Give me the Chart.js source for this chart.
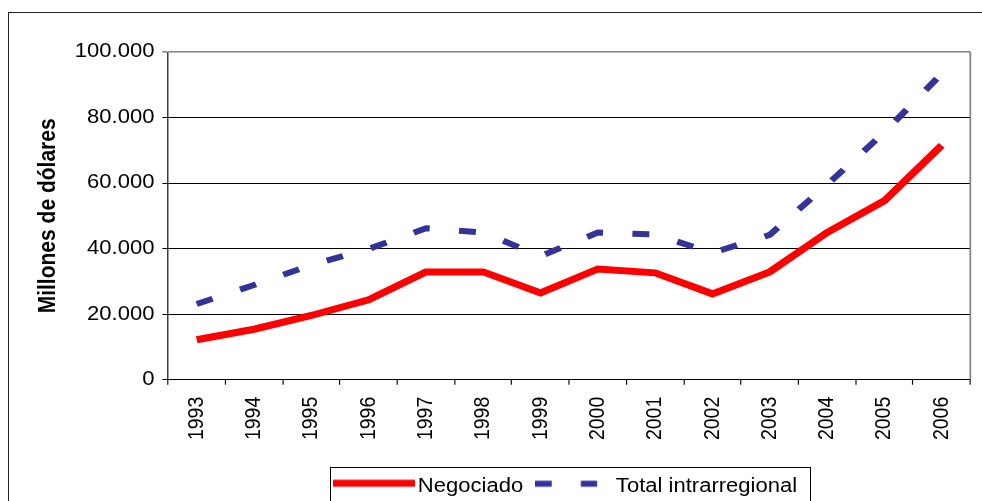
<!DOCTYPE html>
<html>
<head>
<meta charset="utf-8">
<script src="https://cdn.jsdelivr.net/npm/chart.js@4/dist/chart.umd.min.js"></script>
<style>
  html, body { margin: 0; padding: 0; background: #fff; }
  canvas { display: block; }
</style>
</head>
<body>
<canvas id="chart" width="869" height="501"></canvas>
<script>
var years = ['1993', '1994', '1995', '1996', '1997', '1998', '1999', '2000', '2001', '2002', '2003', '2004', '2005', '2006'];
var negociado = [12200, 15400, 19600, 24400, 32900, 32900, 26500, 33800, 32600, 26200, 32900, 44900, 54600, 71500];
var totalIntra = [23100, 28900, 35000, 39900, 46200, 44900, 37700, 44900, 44300, 38700, 44200, 59500, 75500, 93400];
var yTickLabels = ['0', '20.000', '40.000', '60.000', '80.000', '100.000'];

// the original picture is stretched sideways, so draw narrow and widen it
var S = 982 / 869;
var FONT = 'Liberation Sans, Arial, sans-serif';

function legendSample(kind) {
    var c = document.createElement('canvas');
    var g = c.getContext('2d');
    if (kind === 'line') {
        c.width = 73; c.height = 20;
        g.fillStyle = '#ff0000';
        g.fillRect(0, 3.5, 73, 7);
    } else {
        c.width = 66; c.height = 20;
        g.fillStyle = '#333399';
        g.fillRect(0, 4.5, 15, 6);
        g.fillRect(40.7, 4.5, 14.5, 6);
    }
    return c;
}

var frame = {
    id: 'frame',
    beforeDatasetsDraw: function (chart) {
        var ctx = chart.ctx, a = chart.chartArea;
        ctx.save();
        ctx.strokeStyle = '#808080';
        ctx.lineWidth = 1.5;
        ctx.beginPath();
        ctx.moveTo(a.right, a.top);
        ctx.lineTo(a.right, a.bottom);
        ctx.stroke();
        ctx.restore();
    },
    afterDraw: function (chart) {
        var ctx = chart.ctx;
        var boxes = chart.legend.legendHitBoxes;
        ctx.save();
        ctx.setTransform(1, 0, 0, 1, 0, 0);
        // outer chart border
        ctx.strokeStyle = '#222';
        ctx.lineWidth = 1;
        ctx.strokeRect(8.5, 12.5, 1000, 600);
        // legend border
        if (boxes && boxes.length) {
            var l = Math.round((boxes[0].left - 9.8) * S) + 0.5;
            var last = boxes[boxes.length - 1];
            var r = Math.round((last.left + last.width + 11) * S) + 0.5;
            ctx.strokeStyle = '#000';
            ctx.strokeRect(l, 467.5, r - l, 100);
        }
        ctx.restore();
    }
};

var canvas = document.getElementById('chart');
var chart = new Chart(canvas, {
    type: 'line',
    data: {
        labels: years,
        datasets: [{
            label: 'Negociado',
            data: negociado,
            borderColor: '#ff0000',
            backgroundColor: '#ff0000',
            borderWidth: 7,
            borderJoinStyle: 'miter',
            borderCapStyle: 'butt',
            pointRadius: 0,
            tension: 0,
            fill: false
        }, {
            label: 'Total intrarregional',
            data: totalIntra,
            borderColor: '#333399',
            backgroundColor: '#333399',
            borderWidth: 6,
            borderDash: [15, 26],
            borderCapStyle: 'butt',
            pointRadius: 0,
            tension: 0,
            fill: false
        }]
    },
    options: {
        responsive: false,
        animation: false,
        devicePixelRatio: 1,
        layout: { padding: { top: 52, right: 8, bottom: -5, left: 0 } },
        plugins: {
            tooltip: { enabled: false },
            legend: {
                position: 'bottom',
                fullSize: false,
                labels: {
                    usePointStyle: true,
                    pointStyleWidth: 58,
                    padding: 14.3,
                    color: '#000',
                    font: { family: FONT, size: 19.5 },
                    generateLabels: function (ch) {
                        return ch.data.datasets.map(function (ds, i) {
                            return {
                                text: ds.label,
                                datasetIndex: i,
                                fontColor: '#000',
                                lineWidth: 0,
                                pointStyle: legendSample(i === 0 ? 'line' : 'dash')
                            };
                        });
                    }
                }
            }
        },
        scales: {
            x: {
                offset: true,
                grid: { offset: true, drawOnChartArea: false, color: '#000', tickLength: 5 },
                border: { color: '#000', width: 1 },
                ticks: {
                    autoSkip: false,
                    minRotation: 90,
                    maxRotation: 90,
                    padding: 12,
                    color: '#000',
                    font: { family: FONT, size: 19.5 }
                },
                afterFit: function (scale) { scale.height = 82.5; }
            },
            y: {
                min: 0,
                max: 100000,
                grid: {
                    color: function (c) { return c.tick && c.tick.value === 100000 ? '#808080' : '#000'; },
                    lineWidth: function (c) { return c.tick && c.tick.value === 100000 ? 1.5 : 1; },
                    tickLength: 5
                },
                border: { color: '#000', width: 1 },
                ticks: {
                    stepSize: 20000,
                    padding: 7,
                    color: '#000',
                    font: { family: FONT, size: 19.5 },
                    callback: function (v, i) { return yTickLabels[i]; }
                },
                title: {
                    display: true,
                    text: 'Millones de dólares',
                    color: '#000',
                    font: { family: FONT, size: 21, weight: 'bold' },
                    padding: { top: 30, bottom: 0 }
                },
                afterFit: function (scale) { scale.width = 148.7; }
            }
        }
    },
    plugins: [frame]
});

// widen the bitmap and redraw through the same chart
canvas.width = 982;
canvas.height = 501;
canvas.style.width = '982px';
canvas.style.height = '501px';
chart.ctx.setTransform(S, 0, 0, 1, 0, 0);
chart.draw();
</script>
</body>
</html>
